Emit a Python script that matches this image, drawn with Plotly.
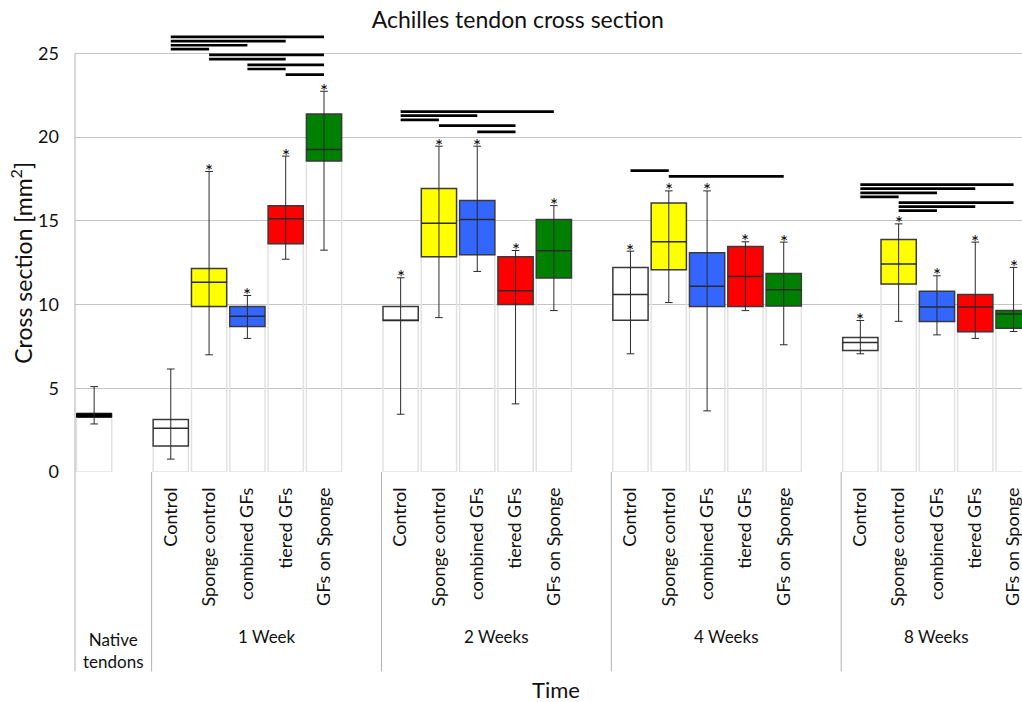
import plotly.graph_objects as go

# ---------------- data ----------------
groups = ["1 Week", "2 Weeks", "4 Weeks", "8 Weeks"]
treatments = ["Control", "Sponge control", "combined GFs", "tiered GFs", "GFs on Sponge"]
treat_colors = ["#FFFFFF", "#FFFF00", "#3366FF", "#FF0000", "#008000"]

# native tendons: low whisker, q1, median, q3, high whisker
native_stats = [2.87, 3.27, 3.40, 3.51, 5.10]

# per group, per treatment: [low, q1, median, q3, high]
week1 = [[0.77, 1.55, 2.62, 3.13, 6.15],
         [7.00, 9.88, 11.33, 12.16, 17.95],
         [7.98, 8.69, 9.30, 9.88, 10.54],
         [12.71, 13.63, 15.12, 15.91, 18.87],
         [13.25, 18.57, 19.26, 21.39, 22.74]]
week2 = [[3.45, 9.05, 9.07, 9.88, 11.60],
         [9.22, 12.86, 14.86, 16.94, 19.46],
         [11.98, 12.98, 15.08, 16.21, 19.46],
         [4.07, 10.00, 10.83, 12.86, 13.23],
         [9.64, 11.58, 13.21, 15.08, 15.91]]
week4 = [[7.06, 9.07, 10.60, 12.22, 13.19],
         [10.12, 12.08, 13.75, 16.07, 16.79],
         [3.65, 9.88, 11.09, 13.10, 16.79],
         [9.64, 9.88, 11.67, 13.47, 13.75],
         [7.60, 9.92, 10.89, 11.85, 13.73]]
week8 = [[7.06, 7.26, 7.74, 8.03, 9.05],
         [9.00, 11.23, 12.42, 13.89, 14.82],
         [8.19, 8.99, 9.86, 10.79, 11.72],
         [7.98, 8.37, 9.86, 10.60, 13.73],
         [8.39, 8.59, 9.44, 9.64, 12.22]]
group_data = [week1, week2, week4, week8]

# significance star above whisker (per group, per treatment)
stars = [[False, True, True, True, True],
         [True, True, True, True, True],
         [True, True, True, True, True],
         [True, True, True, True, True]]

# significance bars: group index, from treatment, to treatment, height
sig_group = [0, 0, 0, 0, 0, 0, 0, 0, 0,
             1, 1, 1, 1, 1,
             2, 2,
             3, 3, 3, 3, 3, 3, 3]
sig_from = [0, 0, 0, 0, 1, 1, 2, 2, 3,
            0, 0, 0, 1, 2,
            0, 1,
            0, 0, 0, 0, 1, 1, 1]
sig_to = [4, 3, 2, 1, 4, 3, 4, 3, 4,
          4, 2, 1, 3, 3,
          1, 4,
          4, 3, 2, 1, 4, 3, 2]
sig_y = [25.99, 25.73, 25.49, 25.26, 24.92, 24.66, 24.32, 24.07, 23.73,
         21.52, 21.29, 21.03, 20.69, 20.32,
         18.00, 17.66,
         17.16, 16.92, 16.67, 16.43, 16.09, 15.85, 15.61]

y_ticks = [0, 5, 10, 15, 20, 25]

# ---------------- layout helpers ----------------
FONT = "Lato, 'Open Sans', sans-serif"
X_MIN, X_MAX = -0.5, 24.22
Y_MIN, Y_MAX = 0, 26.4
BOX_W = 0.92
FIG_W, FIG_H = 1022, 702


def pos(g, k):
    return 2 + 6 * g + k


xs, lows, q1s, meds, q3s, highs, cols, star_flags = [], [], [], [], [], [], [], []
for g, gd in enumerate(group_data):
    for k, st in enumerate(gd):
        xs.append(pos(g, k))
        lows.append(st[0]); q1s.append(st[1]); meds.append(st[2])
        q3s.append(st[3]); highs.append(st[4])
        cols.append(treat_colors[k])
        star_flags.append(stars[g][k])

fig = go.Figure()

# faint under-bars (0 -> q1)
fig.add_trace(go.Bar(
    x=[0] + xs, y=[native_stats[1]] + q1s, base=0, width=BOX_W,
    marker=dict(color="rgba(255,255,255,0)", line=dict(color="#e2e2e2", width=1.5)),
    hoverinfo="skip", showlegend=False))

# boxes (q1 -> q3)
fig.add_trace(go.Bar(
    x=xs, y=[b - a for a, b in zip(q1s, q3s)], base=q1s, width=BOX_W,
    marker=dict(color=cols, line=dict(color="#3a3a3a", width=1.5)),
    hoverinfo="skip", showlegend=False))
fig.add_trace(go.Bar(
    x=[0], y=[native_stats[3] - native_stats[1]], base=[native_stats[1]], width=BOX_W,
    marker=dict(color="#000000", line=dict(color="#000000", width=1)),
    hoverinfo="skip", showlegend=False))

# whiskers
wx, wy = [], []
cap = 0.1
all_x = [0] + xs
all_low = [native_stats[0]] + lows
all_high = [native_stats[4]] + highs
for x, lo, hi in zip(all_x, all_low, all_high):
    wx += [x, x, None, x - cap, x + cap, None, x - cap, x + cap, None]
    wy += [lo, hi, None, lo, lo, None, hi, hi, None]
fig.add_trace(go.Scatter(x=wx, y=wy, mode="lines",
                         line=dict(color="#2a2a2a", width=1),
                         hoverinfo="skip", showlegend=False))

# medians
mx, my = [], []
for x, m in zip(xs, meds):
    mx += [x - BOX_W / 2, x + BOX_W / 2, None]
    my += [m, m, None]
fig.add_trace(go.Scatter(x=mx, y=my, mode="lines",
                         line=dict(color="#2a2a2a", width=1.5),
                         hoverinfo="skip", showlegend=False))

# significance bars
bx, by = [], []
for g, a, b, yv in zip(sig_group, sig_from, sig_to, sig_y):
    bx += [pos(g, a), pos(g, b), None]
    by += [yv, yv, None]
fig.add_trace(go.Scatter(x=bx, y=by, mode="lines",
                         line=dict(color="#000000", width=2.7),
                         hoverinfo="skip", showlegend=False, cliponaxis=False))

# ---------------- frame, dividers, labels ----------------
def px(x):
    return (x - X_MIN) / (X_MAX - X_MIN)


def py(y):
    return (y - Y_MIN) / (Y_MAX - Y_MIN)


BOTTOM = -0.451
shapes = [dict(type="line", xref="paper", yref="paper", x0=0, x1=0,
               y0=py(25), y1=BOTTOM, line=dict(color="#b0b0b0", width=1))]
for d in [1.5, 7.5, 13.5, 19.5]:
    shapes.append(dict(type="line", xref="paper", yref="paper", x0=px(d), x1=px(d),
                       y0=0, y1=BOTTOM, line=dict(color="#b0b0b0", width=1)))

annotations = []
# stars above whiskers
for x, h, f in zip(xs, highs, star_flags):
    if f:
        annotations.append(dict(text="*", x=x, y=h, xref="x", yref="y",
                                showarrow=False, xanchor="center", yanchor="middle",
                                yshift=1, font=dict(family=FONT, size=19, color="#000")))

group_centers = [4.5, 10.5, 16.5, 22.0]
for name, c in zip(groups, group_centers):
    annotations.append(dict(text=name, x=px(c), y=-0.372, xref="paper", yref="paper",
                            showarrow=False, xanchor="center", yanchor="middle",
                            font=dict(family=FONT, size=17, color="#111")))
annotations.append(dict(text="Native<br>tendons", x=px(0.5), y=-0.404, xref="paper", yref="paper",
                        showarrow=False, xanchor="center", yanchor="middle",
                        font=dict(family=FONT, size=17, color="#111")))
annotations.append(dict(text="Time", x=0.508, y=-0.491, xref="paper", yref="paper",
                        showarrow=False, xanchor="center", yanchor="middle",
                        font=dict(family=FONT, size=22, color="#111")))
annotations.append(dict(text="Cross section [mm<sup>2</sup>]", textangle=-90,
                        x=-0.056, y=py(12.5), xref="paper", yref="paper",
                        showarrow=False, xanchor="center", yanchor="middle",
                        font=dict(family=FONT, size=23, color="#111")))

fig.update_layout(
    width=FIG_W, height=FIG_H,
    margin=dict(l=75, r=0, t=30, b=230, pad=0),
    paper_bgcolor="white", plot_bgcolor="white",
    barmode="overlay",
    title=dict(text="Achilles tendon cross section", x=0.4675, xref="paper",
               y=1 - 20 / FIG_H, yanchor="middle", xanchor="center",
               font=dict(family=FONT, size=23, color="#111")),
    shapes=shapes, annotations=annotations,
    xaxis=dict(range=[X_MIN, X_MAX], tickmode="array",
               tickvals=xs, ticktext=[treatments[i % 5] for i in range(len(xs))],
               tickangle=-90, showgrid=False, zeroline=False, showline=False,
               ticks="", ticklabelstandoff=11, ticklabeloverflow="allow",
               tickfont=dict(family=FONT, size=18, color="#111")),
    yaxis=dict(range=[Y_MIN, Y_MAX], tickmode="array", tickvals=y_ticks,
               showgrid=True, gridcolor="#c4c4c4", gridwidth=1,
               zeroline=False, showline=False, ticks="",
               ticklabelstandoff=15,
               tickfont=dict(family=FONT, size=18, color="#111")),
)

fig.write_html(
    "out.html",
    config={"displayModeBar": False},
    post_script="document.body.style.margin='0';document.body.style.overflow='hidden';",
)
